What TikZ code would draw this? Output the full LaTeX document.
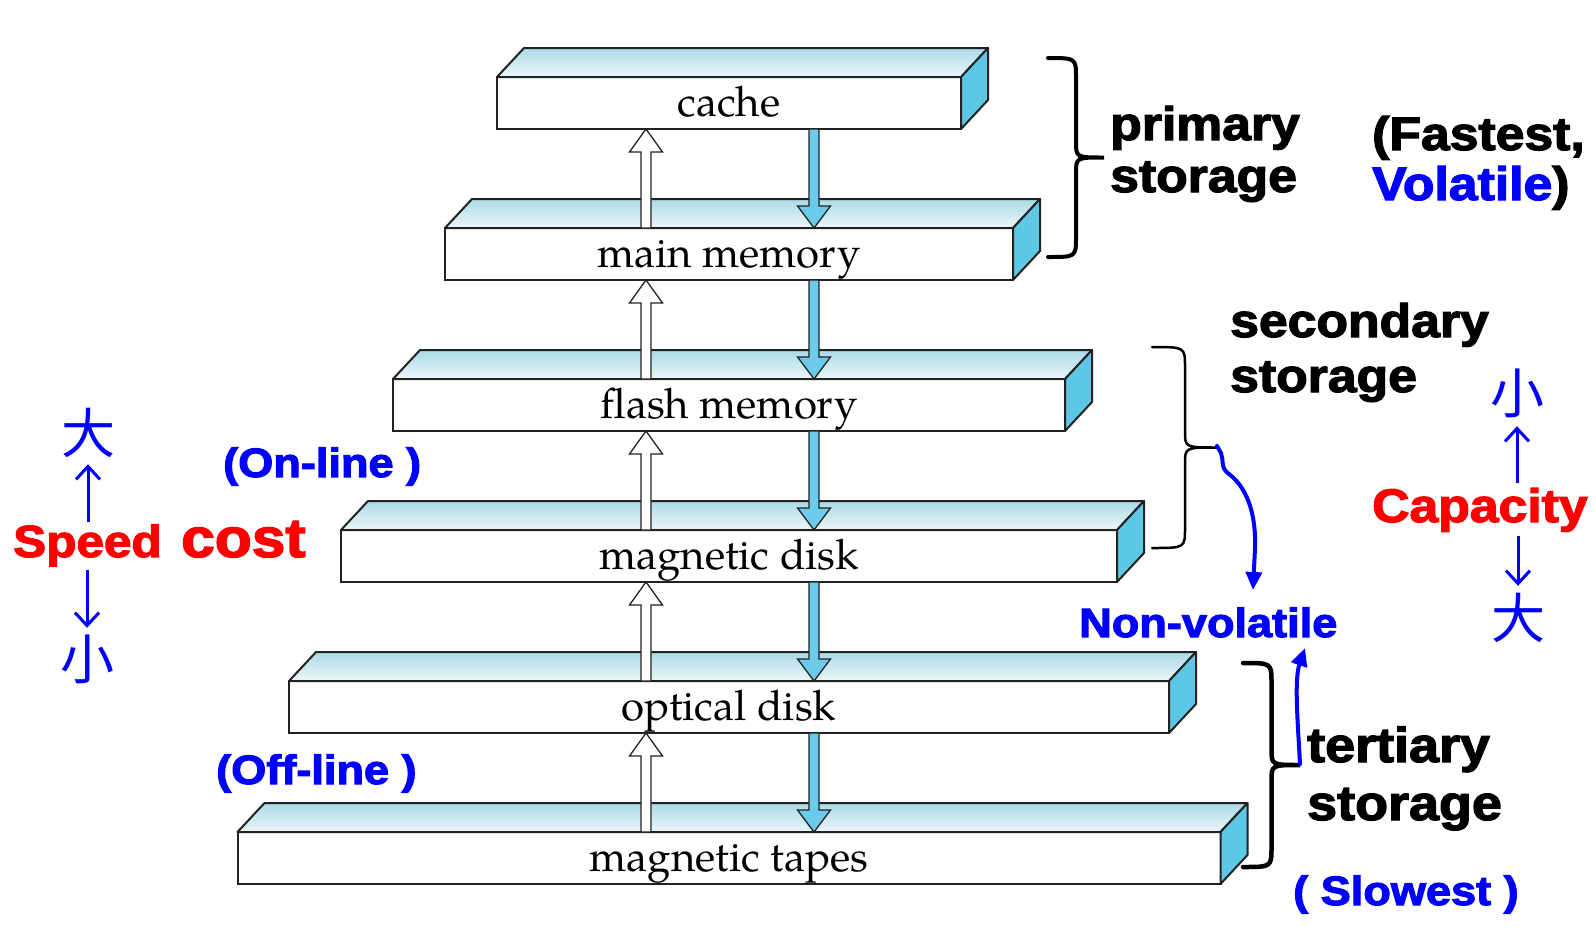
\documentclass[tikz,border=0pt]{standalone}
\usepackage{fontspec}
\setsansfont{Liberation Sans}
\newfontfamily\hvy[FakeBold=2.5]{Liberation Sans Bold}
\newfontfamily\boxfont{texgyrepagella-regular.otf}
\newfontfamily\cjk{Noto Sans CJK TC}
\usetikzlibrary{arrows.meta,calc}
\definecolor{topback}{RGB}{170,218,232}
\definecolor{topfront}{RGB}{236,246,248}
\definecolor{sideblue}{RGB}{92,200,230}
\definecolor{arrblue}{RGB}{108,203,234}
\definecolor{edge}{RGB}{34,34,34}
\definecolor{txtblue}{RGB}{0,0,255}
\definecolor{txtred}{RGB}{255,0,0}
\newcommand\sx[1]{\scalebox{1.1}[1]{#1}}
\newcommand\drawslab[1]{%
  \draw[topface] (#1.north west) -- ++(27,-29) -- ($(#1.north east)+(27,-29)$) -- (#1.north east) -- cycle;
  \draw[sideface] (#1.north east) -- ++(27,-29) -- ($(#1.south east)+(27,-29)$) -- (#1.south east) -- cycle;}
\newcommand\levelup[2]{%
  \draw[hollowarr] ($(ux|-#1.north)+(-5,0)$) -- ($(ux|-#2.south)+(-5,23)$) -- ++(-11.5,0) -- (ux|-#2.south)
    -- ($(ux|-#2.south)+(16.5,23)$) -- ++(-11.5,0) -- ($(ux|-#1.north)+(5,0)$) -- cycle;}
\newcommand\leveldown[2]{%
  \draw[bluearr] ($(dx|-#2.south)+(-5,0)$) -- ($(dx|-#1.north)+(-5,-22)$) -- ++(-11.5,0) -- (dx|-#1.north)
    -- ($(dx|-#1.north)+(16.5,-22)$) -- ++(-11.5,0) -- ($(dx|-#2.south)+(5,0)$) -- cycle;}
\newcommand\bracepath[5]{% x-end, y1, y2, amplitude, width
  \draw[line width=#5, line cap=round] (#1,#2) .. controls ({#1+#4/2},#2) .. ({#1+#4/2},{#2+20})
    -- ({#1+#4/2},{(#2+#3)/2-16}) .. controls ({#1+#4/2},{(#2+#3)/2}) .. ({#1+#4},{(#2+#3)/2})
    .. controls ({#1+#4/2},{(#2+#3)/2}) .. ({#1+#4/2},{(#2+#3)/2+16})
    -- ({#1+#4/2},{#3-20}) .. controls ({#1+#4/2},#3) .. (#1,#3);}
\begin{document}
\begin{tikzpicture}[x=1pt,y=-1pt,
  front/.style={draw=edge,line width=2pt,fill=white,inner sep=0pt,outer sep=0pt,
    minimum height=52pt,text height=30pt,text depth=4pt,font=\boxfont\fontsize{42}{46}\selectfont},
  topface/.style={draw=edge,line width=2pt,line join=round,top color=topback,bottom color=topfront},
  sideface/.style={draw=edge,line width=2pt,line join=round,fill=sideblue},
  hollowarr/.style={draw=edge,line width=1.3pt,fill=white},
  bluearr/.style={draw=edge,line width=1.3pt,fill=arrblue},
  lbl/.style={inner sep=0pt,anchor=base west,font=\hvy\fontsize{47}{50}\selectfont},
  lbls/.style={lbl,font=\hvy\fontsize{41}{44}\selectfont},
  han/.style={inner sep=0pt,anchor=base,text height=45pt,text depth=4pt,text=txtblue,font=\cjk\fontsize{54}{56}\selectfont},
  sidearr/.style={draw=txtblue,line width=3pt,-{Straight Barb[length=13pt,width=24pt]}},
  curvearr/.style={draw=txtblue,line width=4pt,line cap=round,-{Triangle[length=18pt,width=16pt]}}]
\useasboundingbox (0,0) rectangle (1596,927);
\coordinate (ux) at (646,0);
\coordinate (dx) at (814,0);
% slabs
\node[front,minimum width=464pt] (cache) at (729,103) {cache};
\node[front,minimum width=568pt] (main) at (729,254) {main memory};
\node[front,minimum width=672pt] (flash) at (729,405) {flash memory};
\node[front,minimum width=776pt] (disk) at (729,556) {magnetic disk};
\node[front,minimum width=880pt] (optical) at (729,707) {optical disk};
\node[front,minimum width=983pt] (tapes) at (729,858) {magnetic tapes};
\drawslab{cache}\drawslab{main}\drawslab{flash}\drawslab{disk}\drawslab{optical}\drawslab{tapes}
% arrows between levels
\levelup{main}{cache}\leveldown{main}{cache}
\levelup{flash}{main}\leveldown{flash}{main}
\levelup{disk}{flash}\leveldown{disk}{flash}
\levelup{optical}{disk}\leveldown{optical}{disk}
\levelup{tapes}{optical}\leveldown{tapes}{optical}
% braces
\bracepath{1048}{58}{257}{56}{4pt}
\bracepath{1152}{347}{548}{66}{2.5pt}
\bracepath{1243}{663}{867}{57}{4.5pt}
\coordinate (sbtip) at (1217,446);
\coordinate (tbtip) at (1300,764);
% right labels
\node[lbl] (primary) at (1110,140) {\sx{primary}};
\node[lbl] (pstor) at (1110,192) {\sx{storage}};
\node[lbl] (fastest) at (1372,150) {\sx{(Fastest,}};
\node[lbl] (volatile) at (1372,200) {\sx{\textcolor{txtblue}{Volatile})}};
\node[lbl] (secondary) at (1230,337) {\sx{secondary}};
\node[lbl] (sstor) at (1230,392) {\sx{storage}};
\node[lbl,font=\hvy\fontsize{49}{52}\selectfont] (tertiary) at (1307,762) {\sx{tertiary}};
\node[lbl,font=\hvy\fontsize{49}{52}\selectfont] (tstor) at (1307,820) {\sx{storage}};
\node[lbls,text=txtblue] (slowest) at (1293,905) {\sx{( Slowest )}};
\node[lbls,text=txtblue] (nonvol) at (1079,637) {\sx{Non-volatile}};
\node[lbls,text=txtblue] (online) at (223,477) {\sx{(On-line )}};
\node[lbls,text=txtblue] (offline) at (216,784) {\sx{(Off-line )}};
% curved arrows
\coordinate (nvtip) at (1253,590);
\draw[curvearr] (sbtip) -- (1221,453) .. controls (1224,460) and (1220,468) .. (1229,474)
   .. controls (1250,490) and (1256,520) .. (1255,548) -- (nvtip);
\coordinate (upnv) at (1305,648);
\draw[curvearr] (tbtip) .. controls (1298,725) and (1294,680) .. (upnv);
% speed/cost
\node[lbl,text=txtred,font=\hvy\fontsize{45}{48}\selectfont] (speed) at (13,557) {\sx{Speed}};
\node[lbl,text=txtred,font=\hvy\fontsize{55}{58}\selectfont] (cost) at (181,557) {\sx{cost}};
\node[han] (big1) at (88,453) {大};
\node[han] (small1) at (87,679) {小};
\draw[sidearr,shorten <=2pt,shorten >=7pt] (big1.south |- speed.north) -- (big1.south);
\draw[sidearr,shorten <=3pt,shorten >=6pt] (small1.north |- speed.south) -- (small1.north);
% capacity
\node[lbl,text=txtred] (capacity) at (1372,522) {\sx{Capacity}};
\node[han] (small2) at (1517,413) {小};
\node[han] (big2) at (1518,638) {大};
\draw[sidearr,shorten <=5pt,shorten >=9pt] (small2.south |- capacity.north) -- (small2.south);
\draw[sidearr,shorten <=4pt,shorten >=7pt] (big2.north |- capacity.south) -- (big2.north);
\end{tikzpicture}
\end{document}
